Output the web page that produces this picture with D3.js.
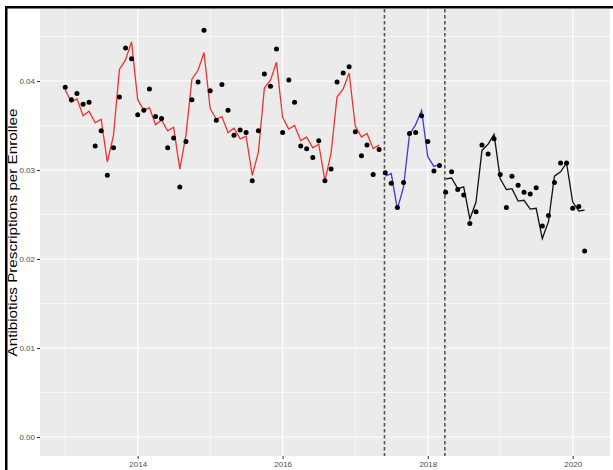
<!DOCTYPE html>
<html>
<head>
<meta charset="utf-8">
<script src="https://cdn.jsdelivr.net/npm/d3@7"></script>
<style>
  body { margin: 0; background: #fff; }
  svg { display: block; font-family: "Liberation Sans", Arial, sans-serif; }
</style>
</head>
<body>
<svg width="613" height="470"></svg>
<script>
const width = 613;
const height = 470;

// monthly observations, Jan 2013 .. Mar 2020
const startMonth = new Date(2013, 0, 1);
const observed = [
  0.0393, 0.0379, 0.0386, 0.0374, 0.0376, 0.0327, 0.0344, 0.0294, 0.0325, 0.0382, 0.0437, 0.0425,
  0.0362, 0.0367, 0.0391, 0.0360, 0.0358, 0.0325, 0.0336, 0.0281, 0.0332, 0.0379, 0.0399, 0.0457,
  0.0389, 0.0356, 0.0396, 0.0367, 0.0339, 0.0345, 0.0342, 0.0288, 0.0344, 0.0408, 0.0394, 0.0436,
  0.0342, 0.0401, 0.0376, 0.0327, 0.0324, 0.0314, 0.0333, 0.0288, 0.0301, 0.0399, 0.0409, 0.0416,
  0.0343, 0.0316, 0.0328, 0.0295, 0.0323, 0.0297, 0.0285, 0.0258, 0.0286, 0.0341, 0.0342, 0.0361,
  0.0332, 0.0299, 0.0305, 0.0275, 0.0298, 0.0278, 0.0272, 0.0240, 0.0253, 0.0328, 0.0318, 0.0335,
  0.0295, 0.0258, 0.0293, 0.0283, 0.0275, 0.0273, 0.0280, 0.0237, 0.0249, 0.0286, 0.0308, 0.0308,
  0.0257, 0.0259, 0.0209
];
// fitted values for each period
const fitPre = [
  0.0390, 0.0376, 0.0380, 0.0361, 0.0366, 0.0353, 0.0357, 0.0309, 0.0339, 0.0413, 0.0424, 0.0444,
  0.0379, 0.0367, 0.0370, 0.0351, 0.0356, 0.0344, 0.0348, 0.0301, 0.0339, 0.0402, 0.0412, 0.0432,
  0.0369, 0.0357, 0.0360, 0.0342, 0.0347, 0.0335, 0.0338, 0.0294, 0.0320, 0.0392, 0.0401, 0.0421,
  0.0359, 0.0346, 0.0350, 0.0333, 0.0337, 0.0325, 0.0329, 0.0288, 0.0319, 0.0382, 0.0391, 0.0409,
  0.0349, 0.0337, 0.0341, 0.0324, 0.0328
];
const fitMid = [0.0293, 0.0296, 0.0256, 0.0281, 0.0340, 0.0351, 0.0367, 0.0315, 0.0304, 0.0306];
const fitPost = [
  0.0290, 0.0291, 0.0279, 0.0281, 0.0245, 0.0264, 0.0322, 0.0329, 0.0340, 0.0290, 0.0278, 0.0279,
  0.0265, 0.0266, 0.0256, 0.0257, 0.0223, 0.0242, 0.0293, 0.0298, 0.0308, 0.0264, 0.0254, 0.0255
];
const cutDates = [new Date(2017, 5, 1), new Date(2018, 3, 1)];
const yTicks = [0, 0.01, 0.02, 0.03, 0.04];
const xTicks = [2014, 2016, 2018, 2020];
const yTitle = "Antibiotics Prescriptions per Enrollee";

const months = observed.map((v, i) => d3.timeMonth.offset(startMonth, i));

const panel = { left: 40, right: 610, top: 9, bottom: 456 };

const x = d3.scaleTime()
  .domain([new Date(2014, 0, 1), new Date(2020, 0, 1)])
  .range([137.7, 572.7]);
const y = d3.scaleLinear()
  .domain([0, 0.04])
  .range([437, 81]);

const svg = d3.select("svg");

// frame
svg.append("rect").attr("x", 5).attr("y", 6).attr("width", width - 5).attr("height", 2.5).attr("fill", "#000");
svg.append("rect").attr("x", 5).attr("y", 6).attr("width", 2.5).attr("height", height - 6).attr("fill", "#000");

// panel background
svg.append("rect")
  .attr("x", panel.left).attr("y", panel.top)
  .attr("width", panel.right - panel.left).attr("height", panel.bottom - panel.top)
  .attr("fill", "#ebebeb");

const grid = svg.append("g");
// minor grid
const yMinor = [-0.005, 0.005, 0.015, 0.025, 0.035, 0.045].filter(v => y(v) > panel.top && y(v) < panel.bottom);
grid.selectAll(".ymin").data(yMinor).enter().append("line")
  .attr("x1", panel.left).attr("x2", panel.right)
  .attr("y1", d => y(d)).attr("y2", d => y(d))
  .attr("stroke", "#fff").attr("stroke-width", 0.6);
grid.selectAll(".xmin").data([2013, 2015, 2017, 2019]).enter().append("line")
  .attr("x1", d => x(new Date(d, 0, 1))).attr("x2", d => x(new Date(d, 0, 1)))
  .attr("y1", panel.top).attr("y2", panel.bottom)
  .attr("stroke", "#fff").attr("stroke-width", 0.6);
// major grid
grid.selectAll(".ymaj").data(yTicks).enter().append("line")
  .attr("x1", panel.left).attr("x2", panel.right)
  .attr("y1", d => y(d)).attr("y2", d => y(d))
  .attr("stroke", "#fff").attr("stroke-width", 1.2);
grid.selectAll(".xmaj").data(xTicks).enter().append("line")
  .attr("x1", d => x(new Date(d, 0, 1))).attr("x2", d => x(new Date(d, 0, 1)))
  .attr("y1", panel.top).attr("y2", panel.bottom)
  .attr("stroke", "#fff").attr("stroke-width", 1.2);

// axes
const yAxis = svg.append("g")
  .attr("transform", `translate(${panel.left},0)`)
  .call(d3.axisLeft(y).tickValues(yTicks).tickSize(3).tickPadding(2).tickFormat(d3.format(".2f")));
const xAxis = svg.append("g")
  .attr("transform", `translate(0,${panel.bottom})`)
  .call(d3.axisBottom(x).tickValues(xTicks.map(d => new Date(d, 0, 1))).tickSize(3).tickPadding(2).tickFormat(d3.timeFormat("%Y")));
[yAxis, xAxis].forEach(a => {
  a.select(".domain").remove();
  a.selectAll(".tick line").attr("stroke", "#333").attr("stroke-width", 1);
  a.selectAll(".tick text").attr("fill", "#4d4d4d").attr("font-size", 8)
    .attr("font-family", "Liberation Sans, Arial, sans-serif");
});

// title is stretched along its length in the original picture
svg.append("text")
  .attr("transform", `translate(16.5,${(panel.top + panel.bottom) / 2}) rotate(-90) scale(1.27,1)`)
  .attr("text-anchor", "middle")
  .attr("font-size", 12)
  .attr("fill", "#000")
  .text(yTitle);

// vertical cut lines
svg.selectAll(".cut").data(cutDates).enter().append("line")
  .attr("x1", d => x(d) - 0.8).attr("x2", d => x(d) - 0.8)
  .attr("y1", panel.top).attr("y2", panel.bottom)
  .attr("stroke", "#555").attr("stroke-width", 1.6)
  .attr("stroke-dasharray", "3.5,2.5");

// fitted lines
const line = d3.line().x(d => x(d[0])).y(d => y(d[1]));
const segments = [
  { values: fitPre, offset: 0, color: "#f3302c" },
  { values: fitMid, offset: fitPre.length, color: "#3a3ae0" },
  { values: fitPost, offset: fitPre.length + fitMid.length, color: "#111" }
];
segments.forEach(s => {
  svg.append("path")
    .datum(s.values.map((v, i) => [months[s.offset + i], v]))
    .attr("fill", "none")
    .attr("stroke", s.color)
    .attr("stroke-width", 1.3)
    .attr("d", line);
});

// observed points
svg.append("g").selectAll("circle")
  .data(observed)
  .enter().append("circle")
  .attr("cx", (d, i) => x(months[i]))
  .attr("cy", d => y(d))
  .attr("r", 2.5)
  .attr("fill", "#000");
</script>
</body>
</html>
